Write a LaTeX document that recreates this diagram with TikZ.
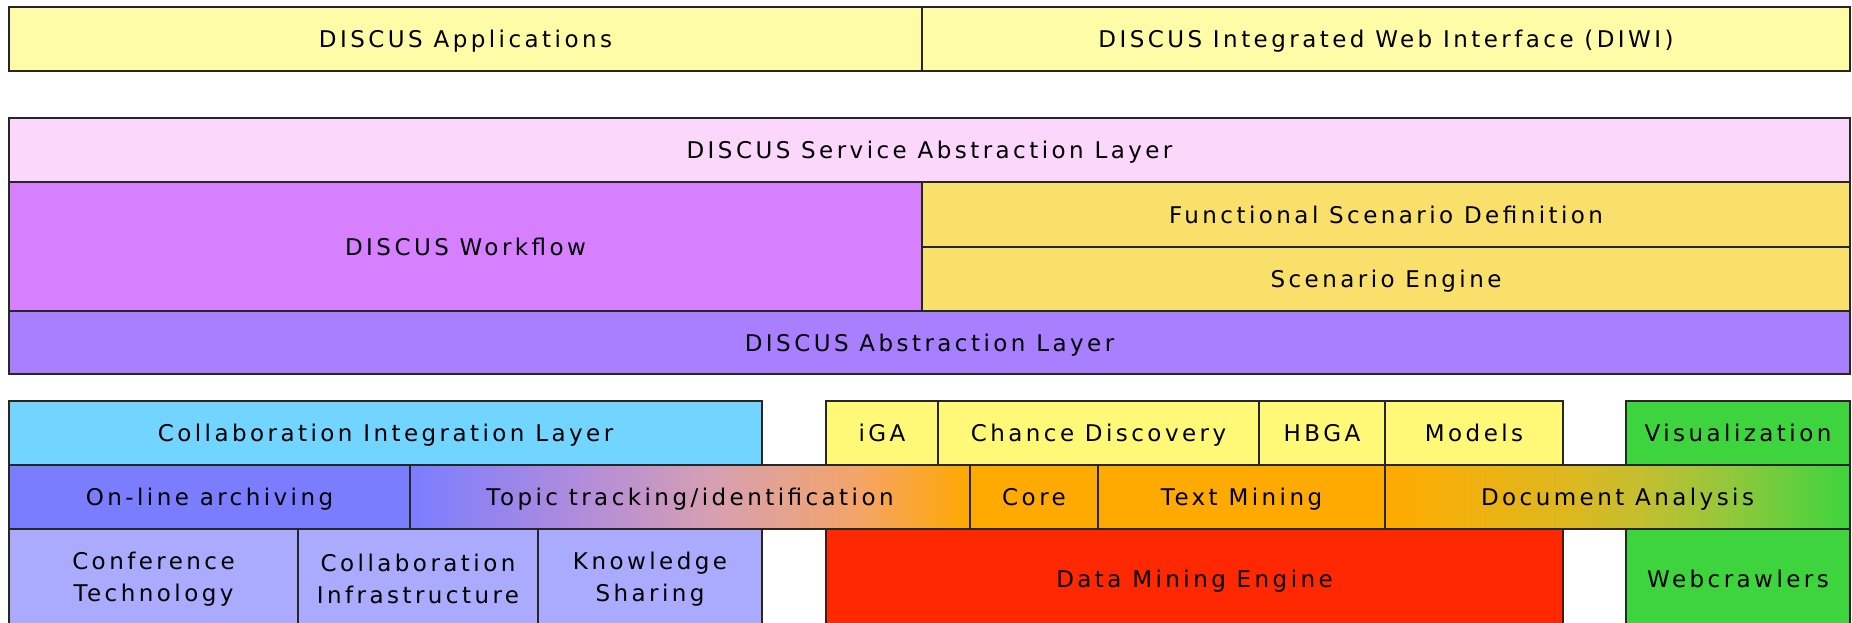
\documentclass[tikz,border=0pt]{standalone}
\usepackage{fontspec}
\setmainfont{DejaVu Sans}[LetterSpace=15]
\definecolor{cYellowTop}{HTML}{FFFCA8}
\definecolor{cPink}{HTML}{FCD7FC}
\definecolor{cViolet}{HTML}{D680FF}
\definecolor{cGold}{HTML}{F9E06B}
\definecolor{cPurple}{HTML}{A880FF}
\definecolor{cSky}{HTML}{72D5FF}
\definecolor{cBlue}{HTML}{7B7DFF}
\definecolor{cLav}{HTML}{AAAAFF}
\definecolor{cYellow}{HTML}{FFF977}
\definecolor{cOrange}{HTML}{FFAA00}
\definecolor{cRed}{HTML}{FF2800}
\definecolor{cGreen}{HTML}{3DD43D}
\definecolor{tA}{HTML}{B08CDC}
\definecolor{tB}{HTML}{D8A0B0}
\definecolor{tC}{HTML}{F4A468}
\definecolor{tD}{HTML}{FFA800}
\definecolor{dA}{HTML}{F8AE08}
\definecolor{dB}{HTML}{DCB820}
\definecolor{dC}{HTML}{C4BE30}
\definecolor{dD}{HTML}{90C83C}
\pgfdeclarehorizontalshading{topicshade}{100bp}{color(0bp)=(cBlue); color(25bp)=(cBlue); color(40bp)=(tA); color(52.5bp)=(tB); color(65bp)=(tC); color(75bp)=(tD); color(100bp)=(tD)}
\pgfdeclarehorizontalshading{docshade}{100bp}{color(0bp)=(cOrange); color(25bp)=(cOrange); color(30bp)=(dA); color(45bp)=(dB); color(52.5bp)=(dC); color(62.5bp)=(dD); color(75bp)=(cGreen); color(100bp)=(cGreen)}
\tikzset{
  basebox/.style={draw=black!85, line width=1.8pt, inner sep=0pt, outer sep=0pt, align=center,
    font=\fontsize{23}{32}\selectfont, text=black},
  box/.style={basebox, text height=17pt, text depth=0pt},
  twobox/.style={basebox},
  blk/.style n args={4}{at={({(#1+#3)/2},{(#2+#4)/2})}, minimum width={#3-#1}, minimum height={#4-#2}},
}
\begin{document}
\begin{tikzpicture}[x=1pt,y=-1pt]
\useasboundingbox[fill=white] (0,0) rectangle (1852,622);
% top row
\node[box, fill=cYellowTop, blk={9}{7}{922}{71}] (apps) {DISCUS Applications};
\node[box, fill=cYellowTop, blk={922}{7}{1850}{71}] (diwi) {DISCUS Integrated Web Interface (DIWI)};
% middle block
\node[box, fill=cPink, blk={9}{118}{1850}{182}] (sal) {DISCUS Service Abstraction Layer};
\node[box, fill=cViolet, blk={9}{182}{922}{311}] (wf) {DISCUS Workflow};
\node[box, fill=cGold, blk={922}{182}{1850}{247}] (fsd) {Functional Scenario Definition};
\node[box, fill=cGold, blk={922}{247}{1850}{311}] (se) {Scenario Engine};
\node[box, fill=cPurple, blk={9}{311}{1850}{374}] (dal) {DISCUS Abstraction Layer};
% bottom block, row 1
\node[box, fill=cSky, blk={9}{401}{762}{465}] (cil) {Collaboration Integration Layer};
\node[box, fill=cYellow, blk={826}{401}{938}{465}] (iga) {iGA};
\node[box, fill=cYellow, blk={938}{401}{1259}{465}] (cd) {Chance Discovery};
\node[box, fill=cYellow, blk={1259}{401}{1385}{465}] (hbga) {HBGA};
\node[box, fill=cYellow, blk={1385}{401}{1563}{465}] (models) {Models};
\node[box, fill=cGreen, blk={1626}{401}{1850}{465}] (vis) {Visualization};
% row 2
\node[box, fill=cBlue, blk={9}{465}{410}{529}] (ola) {On-line archiving};
\node[box, shade, shading=topicshade, blk={410}{465}{970}{529}] (topic) {Topic tracking/identification};
\node[box, fill=cOrange, blk={970}{465}{1098}{529}] (core) {Core};
\node[box, fill=cOrange, blk={1098}{465}{1385}{529}] (tm) {Text Mining};
\node[box, shade, shading=docshade, blk={1385}{465}{1850}{529}] (da) {Document Analysis};
% row 3
\node[twobox, fill=cLav, blk={9}{529}{298}{629}] (conf) {Conference\\Technology};
\node[twobox, fill=cLav, blk={298}{529}{538}{629}] (cinf) {Collaboration\\Infrastructure};
\node[twobox, fill=cLav, blk={538}{529}{762}{629}] (ks) {Knowledge\\Sharing};
\node[box, fill=cRed, blk={826}{529}{1563}{629}] (dme) {Data Mining Engine};
\node[box, fill=cGreen, blk={1626}{529}{1850}{629}] (web) {Webcrawlers};
\end{tikzpicture}
\end{document}
